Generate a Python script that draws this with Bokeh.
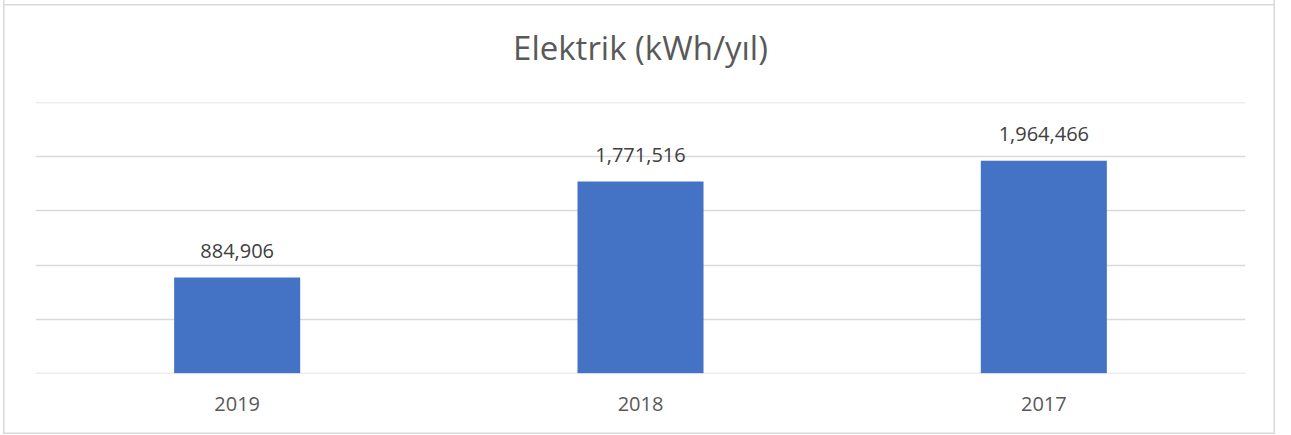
from bokeh.plotting import figure
from bokeh.models import ColumnDataSource, FactorRange, FixedTicker, LabelSet, Range1d
from bokeh.core.properties import value
from bokeh.embed import file_html
from bokeh.resources import INLINE

title_text = "Elektrik (kWh/yıl)"
years = ["2019", "2018", "2017"]
values = [884906, 1771516, 1964466]
labels = ["884,906", "1,771,516", "1,964,466"]
grid_ticks = [0, 500000, 1000000, 1500000, 2000000, 2500000]

FONT = "Open Sans"

src = ColumnDataSource(dict(x=years, top=values, label=labels))

p = figure(
    x_range=FactorRange(*years, range_padding=0),
    y_range=Range1d(-2000, 2502000),
    width=1272, height=445,
    output_backend="svg", toolbar_location=None,
    min_border_left=32, min_border_right=30,
    min_border_top=113, min_border_bottom=61,
    margin=(-11, 0, 0, 3),
    title=title_text,
)
# chart border: sides via inset shadow, top line drawn 15px down (element starts above the page)
p.styles = {
    "box-shadow": "inset 0 0 0 1.5px #D9D9D9",
    "background": "linear-gradient(#D9D9D9, #D9D9D9) 0 15px / 100% 1.5px no-repeat, white",
}

p.title.align = "center"
p.title.text_font = FONT
p.title.text_font_size = "33px"
p.title.text_font_style = "normal"
p.title.text_color = "#595959"
p.title.standoff = 65

p.vbar(x="x", top="top", width=0.3125, source=src, fill_color="#4472C4", line_color=None)

p.add_layout(LabelSet(x="x", y="top", text="label", source=src, text_align="center",
                      text_baseline="alphabetic", y_offset=20, text_font=value(FONT),
                      text_font_size=value("20px"), text_color=value("#404040")))

p.outline_line_color = None
p.background_fill_color = "white"
p.border_fill_color = None

p.yaxis.visible = False
p.ygrid.ticker = FixedTicker(ticks=grid_ticks)
p.ygrid.grid_line_color = "#D9D9D9"
p.ygrid.grid_line_width = 1.5
p.xgrid.visible = False

p.xaxis.axis_line_color = None
p.xaxis.major_tick_line_color = None
p.xaxis.minor_tick_line_color = None
p.xaxis.major_label_standoff = 17
p.xaxis.major_label_text_font = FONT
p.xaxis.major_label_text_font_size = "20px"
p.xaxis.major_label_text_color = "#595959"

open("out.html", "w").write(file_html(p, INLINE))
